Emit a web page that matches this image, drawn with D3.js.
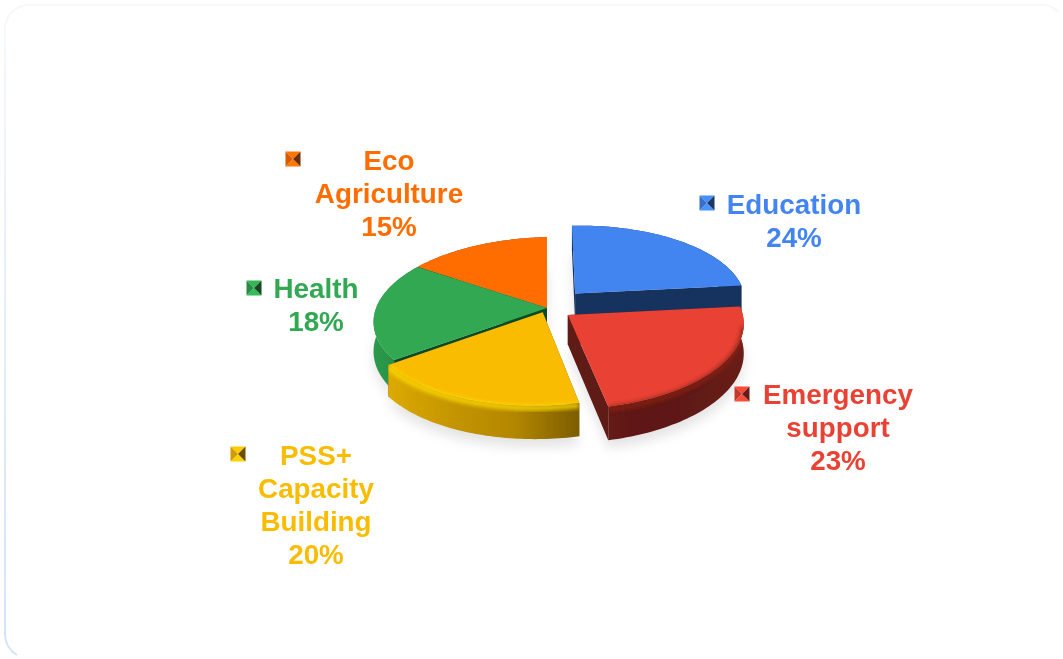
<!DOCTYPE html>
<html>
<head>
<meta charset="utf-8">
<style>
  html, body { margin: 0; padding: 0; background: #fff; overflow: hidden; }
  text { font-family: "Liberation Sans", Arial, sans-serif; font-weight: bold; }
</style>
<script src="https://cdn.jsdelivr.net/npm/d3@7"></script>
</head>
<body>
<svg id="chart" width="1063" height="659"></svg>
<script>
// chart data
var categories = ["Education", "Emergency support", "PSS+ Capacity Building", "Health", "Eco Agriculture"];
var values = [24, 23, 20, 18, 15];
var colors = ["#4285f0", "#e94335", "#f9bc02", "#30a853", "#ff6d01"];
var labelLines = [["Education"], ["Emergency", "support"], ["PSS+", "Capacity", "Building"], ["Health"], ["Eco", "Agriculture"]];
var explode = [42, 26, 10, 0, 0];

// layout of the fake 3d pie
var cx = 547, cy = 308, R = 172, squash = 0.465, persp = 0.129, depth = 29, tilt = -0.02;
var labelX = [794, 838, 316, 316, 389];
var labelY = [214, 404, 465, 298, 170];
var keyX = [707, 742, 238, 254, 293];
var keyY = [203, 394, 454, 288, 159];
var lineH = 33;

var svg = d3.select("#chart");
var defs = svg.append("defs");

defs.append("filter").attr("id", "blur2").append("feGaussianBlur").attr("stdDeviation", 2);
defs.append("filter").attr("id", "soft").append("feGaussianBlur").attr("stdDeviation", 0.6);
defs.append("filter").attr("id", "blur6")
    .attr("x", "-20%").attr("y", "-20%").attr("width", "140%").attr("height", "140%")
    .append("feGaussianBlur").attr("stdDeviation", 6);

// card behind the chart, only its top and left edges can be seen
var cardGrad = defs.append("linearGradient").attr("id", "cardEdge")
    .attr("gradientUnits", "userSpaceOnUse")
    .attr("x1", 0).attr("y1", 0).attr("x2", 0).attr("y2", 659);
cardGrad.append("stop").attr("offset", "0%").attr("stop-color", "#f6f8fc");
cardGrad.append("stop").attr("offset", "100%").attr("stop-color", "#d3e1fc");

svg.append("path")
    .attr("d", "M1058,12 A23,23 0 0 0 1039,5 H29 A24,24 0 0 0 5,29 V634 A24,24 0 0 0 17,655")
    .attr("fill", "none")
    .attr("stroke", "url(#cardEdge)")
    .attr("stroke-width", 2);

// disc point -> screen point, with a bit of perspective so the front looks bigger
function project(x, y, drop) {
  var s = 1 / (1 - persp * y / R);
  return [cx + x * s, cy + y * squash * s + (drop || 0) * s + tilt * x * s];
}

// the lower left of the picture is squeezed by its camera, bend the angle there
function bend(theta) {
  var lo = Math.PI, hi = Math.PI * 5 / 3;
  if (theta <= lo || theta >= hi) return theta;
  return theta - 0.1 * Math.sin(1.5 * (theta - lo));
}

function rim(d, theta, dist) {
  var t = bend(theta);
  return [d.ox + dist * Math.sin(t), d.oy - dist * Math.cos(t)];
}

var line = d3.line();

var slices = d3.pie().sort(null)(values).map(function(a, i) {
  var mid = (a.startAngle + a.endAngle) / 2;
  return {
    i: i,
    a0: a.startAngle,
    a1: a.endAngle,
    mid: mid,
    ox: explode[i] * Math.sin(mid),
    oy: -explode[i] * Math.cos(mid),
    color: colors[i]
  };
});

function arcPts(d, drop, reverse, a0, a1) {
  var n = 60;
  if (a0 === undefined) { a0 = d.a0; a1 = d.a1; }
  var pts = d3.range(n + 1).map(function(k) {
    var t = a0 + (a1 - a0) * k / n;
    var p = rim(d, t, R);
    return project(p[0], p[1], drop);
  });
  return reverse ? pts.reverse() : pts;
}

function topPath(d) {
  return line([project(d.ox, d.oy, 0)].concat(arcPts(d, 0))) + "Z";
}

function wallPath(d) {
  return line(arcPts(d, 0).concat(arcPts(d, depth, true))) + "Z";
}

// soft shadow under the pie
var shadow = svg.append("g").attr("filter", "url(#blur6)").attr("opacity", 0.2);
slices.forEach(function(d) {
  var apex = project(d.ox, d.oy, 36);
  shadow.append("path")
      .attr("d", line([apex].concat(arcPts(d, 36))) + "Z")
      .attr("fill", "#777");
});

// wall shading per slice, left to right across the slice
function wallGradient(d) {
  var pts = arcPts(d, 0);
  var ext = d3.extent(pts, function(p) { return p[0]; });
  var base = d3.color(d.color);
  var grad = defs.append("linearGradient")
      .attr("id", "wall" + d.i)
      .attr("gradientUnits", "userSpaceOnUse")
      .attr("x1", ext[0]).attr("x2", ext[1]).attr("y1", 0).attr("y2", 0);
  var stops;
  if (d.i == 2) stops = ["#dcaa00", "#c59500", "#b28600", "#7c5d00"];
  else if (d.i == 1) stops = ["#641a14", "#5e1812", "#611a14", "#6a1e17"];
  else if (d.i == 3) stops = ["#2c9a4c", "#2a9448", "#1f7a3a", "#1f7a3a"];
  else if (d.i == 0) stops = ["#17335f", "#17335f", "#17335f", "#17335f"];
  else stops = [base.darker(1.6), base.darker(1.6), base.darker(1.9), base.darker(1.9)];
  stops.forEach(function(c, k) {
    grad.append("stop").attr("offset", (k / 3 * 100) + "%").attr("stop-color", c);
  });
}
slices.forEach(wallGradient);

// keep the bevel blur inside the slice
slices.forEach(function(d) {
  var clip = defs.append("clipPath").attr("id", "clip" + d.i);
  clip.append("path").attr("d", topPath(d));
  clip.append("path").attr("d", wallPath(d));
});

var cutColor = ["#17335f", "#5e1a14", "#7c5d00", "#0d4a24", "#7a3400"];
var bevelColor = ["#27508f", "#8a2018", "#ffdc00", "#30a853", "#ff6d01"];

var pie3d = svg.append("g").attr("filter", "url(#soft)");

// back slices first, front slices last
var ordered = slices.slice().sort(function(a, b) { return -Math.cos(a.mid) - -Math.cos(b.mid); });

var g = pie3d.selectAll("g.slice").data(ordered).enter().append("g").attr("class", "slice");

// the two cut faces
[0, 1].forEach(function(side) {
  g.append("path")
      .attr("d", function(d) {
        var t = side ? d.a1 : d.a0;
        var p = rim(d, t, R);
        return line([
          project(d.ox, d.oy, 0), project(p[0], p[1], 0),
          project(p[0], p[1], depth), project(d.ox, d.oy, depth)
        ]) + "Z";
      })
      .attr("fill", function(d) { return cutColor[d.i]; });
});

// outer wall
g.append("path")
    .attr("d", wallPath)
    .attr("fill", function(d) { return "url(#wall" + d.i + ")"; });

// top face
g.append("path")
    .attr("d", topPath)
    .attr("fill", function(d) { return d.color; });

// bevel along the front rim: bright on yellow, dark on red
g.filter(function(d) { return d.i == 1 || d.i == 2; })
    .append("g")
    .attr("clip-path", function(d) { return "url(#clip" + d.i + ")"; })
    .append("path")
    .attr("d", function(d) {
      var a0 = Math.max(d.a0, Math.PI * 0.55);
      var a1 = Math.min(d.a1, Math.PI * 1.5);
      return line(arcPts(d, 2, false, a0, a1));
    })
    .attr("fill", "none")
    .attr("filter", "url(#blur2)")
    .attr("stroke-width", 5)
    .attr("stroke", function(d) { return bevelColor[d.i]; })
    .attr("opacity", 0.9);

// legend keys, small bevelled squares
var keySize = 7.5;
slices.forEach(function(d) {
  var x = keyX[d.i], y = keyY[d.i], k = keySize;
  var c = d3.color(d.color);
  var key = svg.append("g").attr("filter", "url(#soft)");
  var faces = [
    [[x - k, y - k], [x + k, y - k], [x, y], c.brighter(0.2)],
    [[x - k, y + k], [x + k, y + k], [x, y], c.brighter(0.3)],
    [[x - k, y - k], [x - k, y + k], [x, y], c.darker(0.5)],
    [[x + k, y - k], [x + k, y + k], [x, y], c.darker(2.4)]
  ];
  faces.forEach(function(f) {
    key.append("path").attr("d", line(f.slice(0, 3)) + "Z").attr("fill", f[3]);
  });
});

// labels
slices.forEach(function(d) {
  var lines = labelLines[d.i].concat([values[d.i] + "%"]);
  svg.append("text")
      .attr("text-anchor", "middle")
      .attr("font-size", 27.8)
      .attr("fill", d.color)
      .attr("filter", "url(#soft)")
      .selectAll("tspan").data(lines).enter().append("tspan")
      .attr("x", labelX[d.i])
      .attr("y", function(t, k) { return labelY[d.i] - 0.5 + k * lineH; })
      .text(function(t) { return t; });
});
</script>
</body>
</html>
